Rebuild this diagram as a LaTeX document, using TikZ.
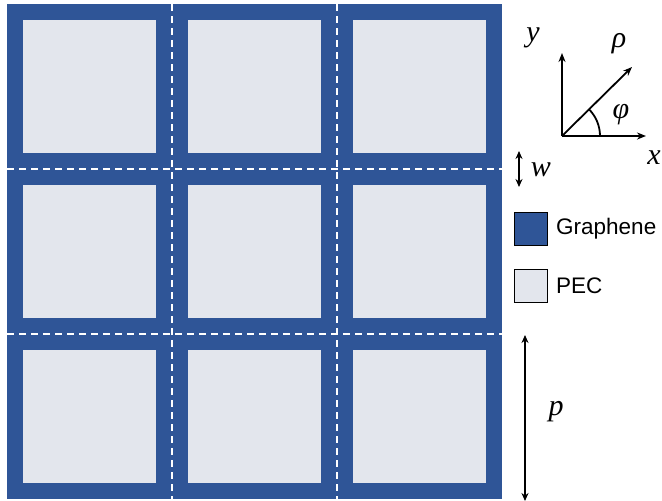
\documentclass[tikz,border=0pt]{standalone}
\usepackage{fontspec}
\setmainfont{Liberation Sans}
\newfontfamily\lbserif{Liberation Serif}
\usetikzlibrary{arrows.meta}
\definecolor{gblue}{HTML}{2F5597}
\definecolor{pecgray}{HTML}{E3E6ED}
\tikzset{
  sym/.style={font=\fontsize{30}{32}\selectfont\lbserif\itshape, inner sep=0pt},
  legtext/.style={font=\fontsize{22.5}{24}\selectfont, anchor=west, inner sep=0pt},
  legbox/.style={draw=black, line width=1pt, minimum width=33pt, minimum height=33pt, inner sep=0pt},
  cut/.style={white, line width=1.6pt, dash pattern=on 7pt off 5pt},
  arr/.style={black, line width=1.8pt, -{Stealth[length=9pt,width=7pt]}},
  darr/.style={black, line width=1.8pt, {Stealth[length=8pt,width=7pt]}-{Stealth[length=8pt,width=7pt]}}
}
\begin{document}
\begin{tikzpicture}[x=1pt,y=-1pt]
\useasboundingbox (0,0) rectangle (662,501);
% graphene frame
\fill[gblue] (7,4) rectangle (502,499);
% PEC patches
\foreach \i in {0,1,2}{
  \foreach \j in {0,1,2}{
    \fill[pecgray] ({23+165*\i},{20+165*\j}) rectangle ++(133,133);
  }
}
% unit cell boundaries
\draw[cut] (172,4) -- (172,499);
\draw[cut] (337,4) -- (337,499);
\draw[cut] (7,169) -- (502,169);
\draw[cut] (7,334) -- (502,334);
% coordinate axes
\coordinate (O) at (562,136);
\coordinate (Y) at (562,53);
\coordinate (X) at (646,136);
\coordinate (R) at (632,67);
\draw[arr] (O) -- (Y);
\draw[arr] (O) -- (X);
\draw[arr] (O) -- (R);
\draw[black, line width=1.8pt] (600,136) arc[start angle=0, end angle=44.6, radius=38pt];
\node[sym] (ly) at (533,38) {y};
\node[sym] (lr) at (619,44) {ρ};
\node[sym] (lf) at (621,115) {φ};
\node[sym] (lx) at (654,158) {x};
% w and p
\coordinate (w1) at (519,151);
\coordinate (w2) at (519,187);
\draw[darr] (w1) -- (w2);
\node[sym] (lw) at (541,170) {w};
\coordinate (p1) at (525,335);
\coordinate (p2) at (525,501);
\draw[darr] (p1) -- (p2);
\node[sym] (lp) at (556,412) {p};
% legend
\node[legbox, fill=gblue] (gbox) at (530.5,229) {};
\node[legtext] (gtext) at (556,229) {Graphene};
\node[legbox, fill=pecgray] (pbox) at (530.5,285.5) {};
\node[legtext] (ptext) at (556,285.5) {PEC};
\end{tikzpicture}
\end{document}
